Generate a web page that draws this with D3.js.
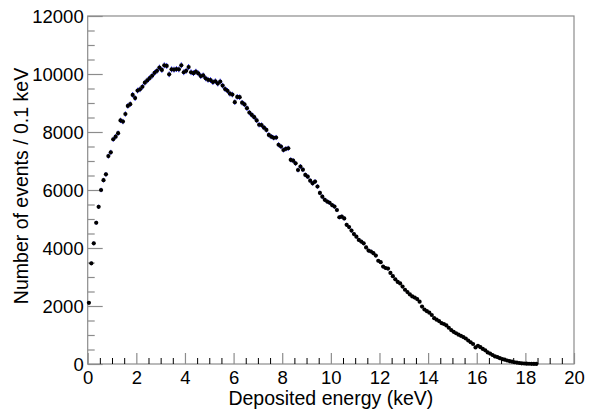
<!DOCTYPE html>
<html>
<head>
<meta charset="utf-8">
<script src="https://cdn.jsdelivr.net/npm/d3@7"></script>
<style>
  body { margin: 0; background: #fff; }
  text { font-family: "Liberation Sans", Arial, sans-serif; fill: #000; }
</style>
</head>
<body>
<div id="chart"></div>
<script>
// Deposited energy spectrum, 0.1 keV bins starting at 0 keV
const binWidth = 0.1;
const counts = [
  2110, 3470, 4160, 4870, 5420, 6000, 6340, 6540, 7170, 7300,
  7750, 7840, 7960, 8400, 8360, 8620, 8900, 8960, 9280, 9170,
  9430, 9470, 9560, 9700, 9780, 9860, 9940, 10040, 10110, 10220,
  10140, 10300, 10280, 9990, 10160, 10150, 10170, 10160, 10300, 10060,
  10110, 10240, 10060, 10030, 10080, 10020, 9930, 9950, 9850, 9800,
  9790, 9720, 9750, 9670, 9740, 9600, 9480, 9420, 9320, 9290,
  9030, 9210, 9200, 9010, 8950, 8820, 8670, 8590, 8510, 8400,
  8250, 8240, 8150, 8070, 7900, 7840, 7800, 7810, 7560, 7500,
  7380, 7420, 7440, 7040, 7010, 6920, 6690, 6810, 6700, 6520,
  6460, 6320, 6230, 6290, 6120, 5900, 5770, 5660, 5600, 5560,
  5480, 5430, 5310, 5060, 5080, 5020, 4800, 4720, 4600, 4480,
  4390, 4280, 4220, 4160, 4020, 3910, 3880, 3820, 3740, 3560,
  3510, 3360, 3310, 3290, 3140, 3030, 2920, 2830, 2780, 2670,
  2560, 2480, 2400, 2330, 2290, 2240, 2150, 1980, 1880, 1820,
  1770, 1690, 1580, 1530, 1480, 1410, 1380, 1330, 1250, 1170,
  1110, 1060, 1010, 970, 930, 880, 810, 750, 690, 570,
  630, 580, 520, 470, 400, 360, 310, 260, 240, 200,
  170, 150, 120, 100, 80, 60, 50, 35, 25, 18,
  12, 8, 5, 3, 2
];

const xMajor = [0, 2, 4, 6, 8, 10, 12, 14, 16, 18, 20];
const yMajor = [0, 2000, 4000, 6000, 8000, 10000, 12000];
const xTitle = "Deposited energy (keV)";
const yTitle = "Number of events / 0.1 keV";

const W = 589, H = 411;
const frame = { left: 87.7, right: 574, top: 16, bottom: 364 };

const svg = d3.select("#chart").append("svg")
  .attr("width", W)
  .attr("height", H);

const x = d3.scaleLinear().domain([0, 20]).range([frame.left, frame.right]);
const y = d3.scaleLinear().domain([0, 12000]).range([frame.bottom, frame.top]);

const axisColor = "#8c8c8c";

// frame
svg.append("rect")
  .attr("x", frame.left)
  .attr("y", frame.top)
  .attr("width", frame.right - frame.left)
  .attr("height", frame.bottom - frame.top)
  .attr("fill", "none")
  .attr("stroke", axisColor)
  .attr("stroke-width", 1.2);

// x axis: ticks point inward (up)
const xMinor = d3.range(0, 20.01, 0.5).filter(v => v % 2 !== 0);
const gx = svg.append("g").attr("transform", `translate(0,${frame.bottom})`);
gx.call(d3.axisBottom(x).tickValues(xMinor).tickSize(-6).tickFormat(""));
gx.call(g => g.selectAll(".tick").attr("class", "minor"));
const gxMaj = svg.append("g").attr("transform", `translate(0,${frame.bottom})`)
  .call(d3.axisBottom(x).tickValues(xMajor).tickSize(-11).tickPadding(0).tickFormat(d3.format("d")));
gxMaj.selectAll(".tick text")
  .attr("y", 20)
  .attr("dy", 0)
  .style("font-size", "18.5px");

// y axis: ticks point inward (right)
const yMinor = d3.range(0, 12001, 500).filter(v => v % 2000 !== 0);
svg.append("g").attr("transform", `translate(${frame.left},0)`)
  .call(d3.axisLeft(y).tickValues(yMinor).tickSize(-7).tickFormat(""));
const gyMaj = svg.append("g").attr("transform", `translate(${frame.left},0)`)
  .call(d3.axisLeft(y).tickValues(yMajor).tickSize(-15).tickPadding(0).tickFormat(d3.format("d")));
gyMaj.selectAll(".tick text")
  .attr("x", -4)
  .attr("dy", "0.35em")
  .style("font-size", "18.5px");

svg.selectAll(".domain").remove();
svg.selectAll(".tick line").attr("stroke", axisColor).attr("stroke-width", 1.2);
svg.selectAll(".tick text").attr("fill", "#000").attr("font-family", "Liberation Sans, Arial, sans-serif");

// axis titles
svg.append("text")
  .attr("x", (frame.left + frame.right) / 2)
  .attr("y", 405)
  .attr("text-anchor", "middle")
  .style("font-size", "19.5px")
  .text(xTitle);

svg.append("text")
  .attr("transform", `translate(28,${(frame.top + frame.bottom) / 2 - 4}) rotate(-90)`)
  .attr("text-anchor", "middle")
  .style("font-size", "19.5px")
  .text(yTitle);

// data points with statistical error bars
const points = counts.map((c, i) => ({ e: i * binWidth + binWidth / 2, n: c }));

const gp = svg.append("g");
gp.selectAll("line.ey")
  .data(points)
  .join("line")
  .attr("class", "ey")
  .attr("x1", d => x(d.e)).attr("x2", d => x(d.e))
  .attr("y1", d => y(d.n + Math.sqrt(d.n)))
  .attr("y2", d => y(d.n - Math.sqrt(d.n)))
  .attr("stroke", "#2020ff")
  .attr("stroke-width", 1);
gp.selectAll("line.ex")
  .data(points)
  .join("line")
  .attr("class", "ex")
  .attr("x1", d => x(d.e - binWidth / 2)).attr("x2", d => x(d.e + binWidth / 2))
  .attr("y1", d => y(d.n)).attr("y2", d => y(d.n))
  .attr("stroke", "#2020ff")
  .attr("stroke-width", 1);
gp.selectAll("circle")
  .data(points)
  .join("circle")
  .attr("cx", d => x(d.e))
  .attr("cy", d => y(d.n))
  .attr("r", 2.1)
  .attr("fill", "#000");
</script>
</body>
</html>
